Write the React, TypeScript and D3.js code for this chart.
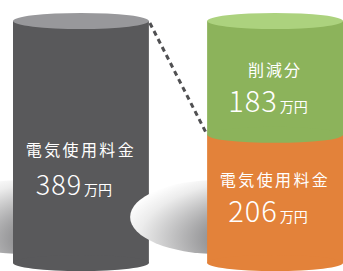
import React, { useEffect, useRef } from 'react';
import * as d3 from 'd3';

// values (万円)
const before = [{ label: '電気使用料金', value: 389, color: '#59595b', top: '#98989b' }];
const after = [
  { label: '電気使用料金', value: 206, color: '#e3823a', top: '#e3823a' },
  { label: '削減分', value: 183, color: '#8cb35b', top: '#acd27e' },
];
const unit = '万円';

const App: React.FC = () => {
  const svgRef = useRef<SVGSVGElement>(null);

  useEffect(() => {
    if (!svgRef.current) return;
    d3.select(svgRef.current).selectAll('*').remove();

    const width = 343;
    const height = 271;
    const total = d3.sum(before, d => d.value);

    const y = d3.scaleLinear().domain([0, total]).range([263, 21]);
    const x = d3.scaleBand().domain(['before', 'after']).range([13, 343]).paddingInner(0.3);
    const ry = 8;
    const font = '"Noto Sans CJK JP", "Noto Sans", sans-serif';

    const svg = d3.select(svgRef.current).attr('width', width).attr('height', height);

    const defs = svg.append('defs');
    const grad = defs.append('radialGradient')
      .attr('id', 'shadow')
      .attr('cx', 0.9).attr('cy', 0.8).attr('r', 1)
      .attr('fx', 0.9).attr('fy', 0.8);
    grad.append('stop').attr('offset', '0%').attr('stop-color', '#48484a');
    grad.append('stop').attr('offset', '45%').attr('stop-color', '#959597');
    grad.append('stop').attr('offset', '85%').attr('stop-color', '#ececec');
    grad.append('stop').attr('offset', '100%').attr('stop-color', '#ffffff');

    const bw = x.bandwidth();

    const drawShadow = (x0: number) => {
      svg.append('ellipse')
        .attr('cx', x0 + 10).attr('cy', 217)
        .attr('rx', 87).attr('ry', 37)
        .attr('fill', 'url(#shadow)');
    };

    const drawStack = (key: string, segs: typeof after) => {
      const x0 = x(key)!;
      const cx = x0 + bw / 2;
      drawShadow(x0);
      let acc = 0;
      const stacked = segs.map(s => {
        const r = { ...s, y0: acc, y1: acc + s.value };
        acc += s.value;
        return r;
      });
      stacked.forEach((s, i) => {
        const g = svg.append('g');
        g.append('rect')
          .attr('x', x0).attr('y', y(s.y1))
          .attr('width', bw).attr('height', y(s.y0) - y(s.y1))
          .attr('fill', s.color);
        g.append('ellipse')
          .attr('cx', cx).attr('cy', y(s.y0))
          .attr('rx', bw / 2).attr('ry', ry)
          .attr('fill', s.color);
        if (i === stacked.length - 1) {
          g.append('ellipse')
            .attr('cx', cx).attr('cy', y(s.y1))
            .attr('rx', bw / 2).attr('ry', ry)
            .attr('fill', s.top);
        }
      });
      return { x0, cx, stacked };
    };

    const left = drawStack('before', before);
    const right = drawStack('after', after);

    // dashed connector
    svg.append('line')
      .attr('x1', left.x0 + bw + 1).attr('y1', y(total) + 2)
      .attr('x2', right.x0 - 1).attr('y2', y(after[0].value) - 2)
      .attr('stroke', '#505052')
      .attr('stroke-width', 3)
      .attr('stroke-dasharray', '5,4');

    const labelOffsets: Record<string, [number, number]> = {
      'before-0': [14, 53],
      'after-0': [-13, 23],
      'after-1': [-1.5, 34],
    };

    const drawLabels = (key: string, info: ReturnType<typeof drawStack>, size: number) => {
      info.stacked.forEach((s, i) => {
        const mid = (y(s.y0) + y(s.y1)) / 2;
        const [lo, no] = labelOffsets[`${key}-${i}`];
        svg.append('text')
          .attr('x', info.cx).attr('y', mid + lo)
          .attr('text-anchor', 'middle')
          .attr('fill', '#fff')
          .style('font-family', font)
          .style('font-size', '16px')
          .style('letter-spacing', s.label.length > 3 ? '2.4px' : '2px')
          .text(s.label);
        const t = svg.append('text')
          .attr('x', info.cx - 7).attr('y', mid + no)
          .attr('text-anchor', 'middle')
          .attr('fill', '#fff')
          .style('font-family', font)
          .style('font-weight', 300);
        t.append('tspan').style('font-size', `${size}px`).style('letter-spacing', '1px').text(s.value);
        t.append('tspan').style('font-size', '14px').style('font-weight', 400).attr('dx', 2).text(unit);
      });
    };

    drawLabels('before', left, 27);
    drawLabels('after', right, 29);
  }, []);

  return <svg ref={svgRef} style={{ position: 'absolute', left: 0, top: 0 }} />;
};

export default App;
